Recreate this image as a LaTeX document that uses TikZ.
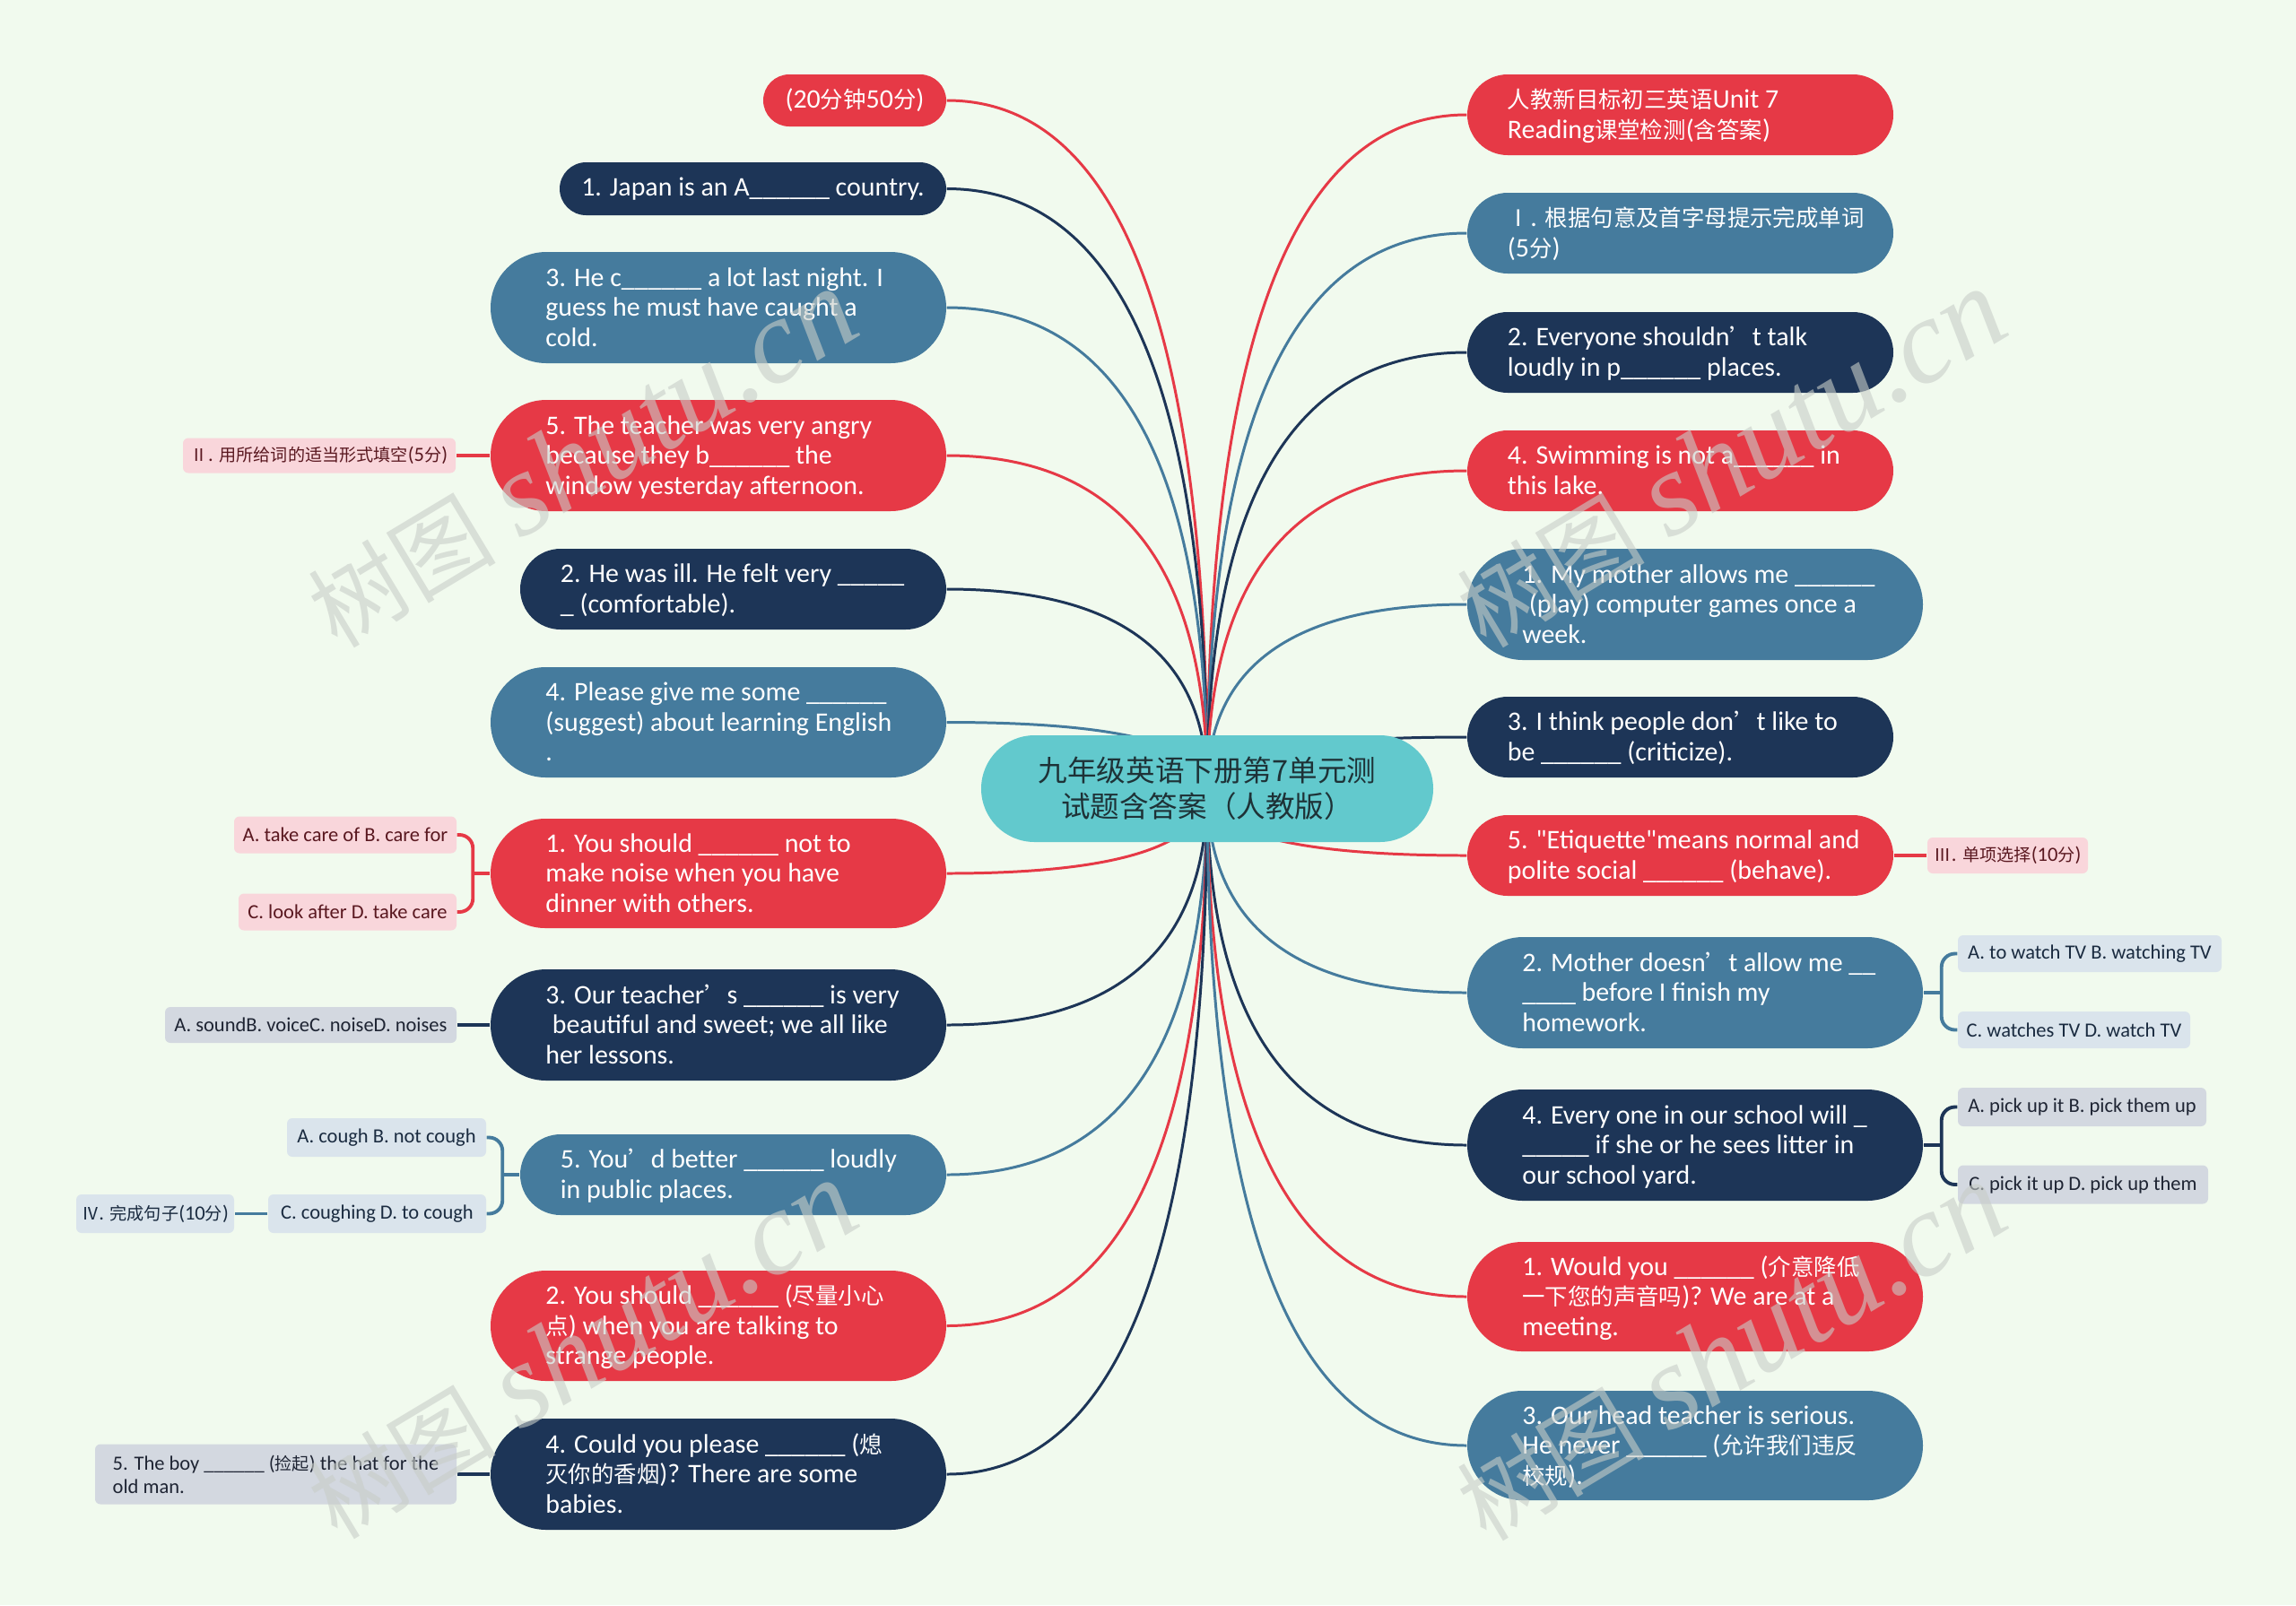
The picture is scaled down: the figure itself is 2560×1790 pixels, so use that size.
\documentclass[tikz,border=0pt]{standalone}
\usepackage{fontspec}
\setmainfont{Carlito}
\newfontfamily\latinmain{Carlito}
\newfontfamily\cjkfont[Scale=0.85]{Noto Sans CJK SC}
\newfontfamily\wmfont{Liberation Serif}
\usetikzlibrary{calc}
\pgfdeclarelayer{bgl}
\pgfdeclarelayer{lnl}
\pgfsetlayers{bgl,lnl,main}
% automatic switch to the CJK font for CJK characters
\XeTeXinterchartokenstate=1
\chardef\cjkcls=11
\newcount\cjkcnt
\def\setcjkrange#1#2{\cjkcnt=#1\relax\loop\XeTeXcharclass\cjkcnt=\cjkcls\relax\advance\cjkcnt by 1\relax\ifnum\cjkcnt<#2\relax\repeat}
\setcjkrange{"4E00}{"A000}
\setcjkrange{"3000}{"3040}
\setcjkrange{"FF00}{"FFF0}
\setcjkrange{"2160}{"2170}
\XeTeXcharclass"2019=\cjkcls
\def\latinfont{\latinmain}
\XeTeXinterchartoks 0 \cjkcls={\cjkfont}
\XeTeXinterchartoks 4095 \cjkcls={\cjkfont}
\XeTeXinterchartoks \cjkcls 0={\latinfont}
\XeTeXinterchartoks \cjkcls 4095={\latinfont}
\definecolor{cred}{HTML}{E63946}
\definecolor{cnavy}{HTML}{1D3557}
\definecolor{cblue}{HTML}{457B9D}
\definecolor{cbg}{HTML}{F1FAEE}
\definecolor{cteal}{HTML}{62C9CD}
\definecolor{cpink}{HTML}{F9D6DB}
\definecolor{cgray}{HTML}{D3D8E0}
\definecolor{clblue}{HTML}{DAE4EC}
\definecolor{ctred}{HTML}{5A1820}
\definecolor{ctdark}{HTML}{1E2433}
\definecolor{ctblue}{HTML}{1A2B40}
\definecolor{ctcenter}{HTML}{1E3237}
\definecolor{wmgray}{HTML}{C8CDC8}
% multi-line text, left aligned in a fixed-width box
\newcommand\mlines[1]{\makebox[3.85cm][l]{\raisebox{-0.03cm}[\height][\depth]{\begin{tabular}{@{}l@{}}#1\end{tabular}}}}
\newcommand\mainlink[2]{%
  \path (root.center |- #1) coordinate (qq);
  \draw[conn,#2] (root.center) .. controls ($(root.center)!0.6667!(qq)$) and ($(#1)!0.6667!(qq)$) .. (#1);}
\begin{document}
\begin{tikzpicture}[x=0.01cm,y=-0.01cm,
  mnode/.style={inner sep=0pt, text=white, font=\latinmain\fontsize{8.5}{9.55}\selectfont},
  pill/.style 2 args={minimum width=#1*0.01cm, minimum height=#2*0.01cm, rounded corners=#2*0.005cm},
  nred/.style={mnode, fill=cred},
  nnavy/.style={mnode, fill=cnavy},
  nblue/.style={mnode, fill=cblue},
  cbox/.style 2 args={minimum width=#1*0.01cm, minimum height=#2*0.01cm, rounded corners=0.06cm, inner sep=0pt, align=left, font=\latinmain\fontsize{6.4}{7.3}\selectfont},
  cpinkn/.style={fill=cpink, text=ctred},
  cgrayn/.style={fill=cgray, text=ctdark},
  clbluen/.style={fill=clblue, text=ctblue},
  conn/.style={line width=0.85pt},
  cconn/.style={line width=1.1pt},
  wm/.style={text=wmgray, text opacity=0.6, rotate=31, inner sep=0pt, font=\latinmain\fontsize{35}{35}\selectfont}
]
\begin{pgfonlayer}{bgl}
\fill[cbg] (0,0) rectangle (2560,1790);
\end{pgfonlayer}
\useasboundingbox (0,0) rectangle (2560,1790);

% root
\node[fill=cteal, pill={504}{119}, inner sep=0pt, align=center, text=ctcenter,
  font=\def\latinfont{\cjkfont}\fontsize{10.9}{11.4}\selectfont\cjkfont] (root) at (1346,879.5)
  {九年级英语下册第7单元测\\试题含答案（人教版）};

% left branches
\node[nred, pill={204}{58}] (l1) at (953,112) {(20分钟50分)};
\node[nnavy, pill={431}{59}] (l2) at (839.5,210.5) {1. Japan is an A\_\_\_\_\_\_ country.};
\node[nblue, pill={508}{124}] (l3) at (801,343) {\mlines{3. He c\_\_\_\_\_\_ a lot last night. I\\guess he must have caught a\\cold.}};
\node[nred, pill={508}{124}] (l4) at (801,508) {\mlines{5. The teacher was very angry\\because they b\_\_\_\_\_\_ the\\window yesterday afternoon.}};
\node[nnavy, pill={475}{90}] (l5) at (817.5,657) {\mlines{2. He was ill. He felt very \_\_\_\_\_\\\_ (comfortable).}};
\node[nblue, pill={508}{123}] (l6) at (801,805.5) {\mlines{4. Please give me some \_\_\_\_\_\_\\(suggest) about learning English\\.}};
\node[nred, pill={508}{122}] (l7) at (801,974) {\mlines{1. You should \_\_\_\_\_\_ not to\\make noise when you have\\dinner with others.}};
\node[nnavy, pill={508}{124}] (l8) at (801,1143) {\mlines{3. Our teacher’s \_\_\_\_\_\_ is very\\\hspace*{.25em}beautiful and sweet; we all like\\her lessons.}};
\node[nblue, pill={475}{90}] (l9) at (817.5,1310) {\mlines{5. You’d better \_\_\_\_\_\_ loudly\\in public places.}};
\node[nred, pill={508}{123}] (l10) at (801,1478.5) {\mlines{2. You should \_\_\_\_\_\_ (尽量小心\\点) when you are talking to\\strange people.}};
\node[nnavy, pill={508}{124}] (l11) at (801,1644) {\mlines{4. Could you please \_\_\_\_\_\_ (熄\\灭你的香烟)? There are some\\babies.}};

% right branches
\node[nred, pill={475}{90}] (r1) at (1873.5,128) {\mlines{人教新目标初三英语Unit 7\\Reading课堂检测(含答案)}};
\node[nblue, pill={475}{90}] (r2) at (1873.5,260) {\mlines{Ⅰ. 根据句意及首字母提示完成单词\\(5分)}};
\node[nnavy, pill={475}{90}] (r3) at (1873.5,393) {\mlines{2. Everyone shouldn’t talk\\loudly in p\_\_\_\_\_\_ places.}};
\node[nred, pill={475}{90}] (r4) at (1873.5,525) {\mlines{4. Swimming is not a\_\_\_\_\_\_ in\\this lake.}};
\node[nblue, pill={508}{124}] (r5) at (1890,674) {\mlines{1. My mother allows me \_\_\_\_\_\_\\\hspace*{.25em}(play) computer games once a\\week.}};
\node[nnavy, pill={475}{90}] (r6) at (1873.5,822) {\mlines{3. I think people don’t like to\\be \_\_\_\_\_\_ (criticize).}};
\node[nred, pill={475}{90}] (r7) at (1873.5,954) {\mlines{5. "Etiquette"means normal and\\polite social \_\_\_\_\_\_ (behave).}};
\node[nblue, pill={508}{124}] (r8) at (1890,1107) {\mlines{2. Mother doesn’t allow me \_\_\\\_\_\_\_ before I finish my\\homework.}};
\node[nnavy, pill={508}{124}] (r9) at (1890,1277) {\mlines{4. Every one in our school will \_\\\_\_\_\_\_ if she or he sees litter in\\our school yard.}};
\node[nred, pill={508}{122}] (r10) at (1890,1446) {\mlines{1. Would you \_\_\_\_\_\_ (介意降低\\一下您的声音吗)? We are at a\\meeting.}};
\node[nblue, pill={508}{122}] (r11) at (1890,1612) {\mlines{3. Our head teacher is serious.\\He never \_\_\_\_\_\_ (允许我们违反\\校规).}};

% children
\node[cbox={304}{39}, cpinkn] (c4) at (356,508) {Ⅱ. 用所给词的适当形式填空(5分)};
\node[cbox={248}{41}, cpinkn] (c7a) at (385,931) {A. take care of B. care for};
\node[cbox={243}{41}, cpinkn] (c7b) at (387.5,1017) {C. look after D. take care};
\node[cbox={325}{40}, cgrayn] (c8) at (346.5,1143) {A. soundB. voiceC. noiseD. noises};
\node[cbox={222}{43}, clbluen] (c9a) at (431,1268.5) {A. cough B. not cough};
\node[cbox={243}{43}, clbluen] (c9b) at (420.5,1353.5) {C. coughing D. to cough};
\node[cbox={176}{43}, clbluen] (c9c) at (173,1353.5) {Ⅳ. 完成句子(10分)};
\node[cbox={403}{67}, cgrayn] (c11) at (307.5,1644) {5. The boy \_\_\_\_\_\_ (捡起) the hat for the\\old man.};
\node[cbox={179}{40}, cpinkn] (cr7) at (2238.5,954) {Ⅲ. 单项选择(10分)};
\node[cbox={294}{41}, clbluen] (cr8a) at (2330,1063.5) {A. to watch TV B. watching TV};
\node[cbox={259}{41}, clbluen] (cr8b) at (2312.5,1148.5) {C. watches TV D. watch TV};
\node[cbox={277}{43}, cgrayn] (cr9a) at (2321.5,1234.5) {A. pick up it B. pick them up};
\node[cbox={279}{43}, cgrayn] (cr9b) at (2322.5,1321) {C. pick it up D. pick up them};

% connectors
\begin{pgfonlayer}{lnl}
\mainlink{l1.east}{cred}
\mainlink{l2.east}{cnavy}
\mainlink{l3.east}{cblue}
\mainlink{l4.east}{cred}
\mainlink{l5.east}{cnavy}
\mainlink{l6.east}{cblue}
\mainlink{l7.east}{cred}
\mainlink{l8.east}{cnavy}
\mainlink{l9.east}{cblue}
\mainlink{l10.east}{cred}
\mainlink{l11.east}{cnavy}
\mainlink{r1.west}{cred}
\mainlink{r2.west}{cblue}
\mainlink{r3.west}{cnavy}
\mainlink{r4.west}{cred}
\mainlink{r5.west}{cblue}
\mainlink{r6.west}{cnavy}
\mainlink{r7.west}{cred}
\mainlink{r8.west}{cblue}
\mainlink{r9.west}{cnavy}
\mainlink{r10.west}{cred}
\mainlink{r11.west}{cblue}
% child links
\draw[cconn,cred] (l4.west) -- (c4.east);
\draw[cconn,cnavy] (l8.west) -- (c8.east);
\draw[cconn,cnavy] (l11.west) -- (c11.east);
\draw[cconn,cred] (r7.east) -- (cr7.west);
\draw[cconn,cblue] (c9b.west) -- (c9c.east);
\draw[cconn,cred] (l7.west) -- ([xshift=-0.19cm]l7.west);
\draw[cconn,cred,rounded corners=0.15cm] (c7a.east) -| ([xshift=-0.19cm]l7.west) |- (c7b.east);
\draw[cconn,cblue] (l9.west) -- ([xshift=-0.19cm]l9.west);
\draw[cconn,cblue,rounded corners=0.15cm] (c9a.east) -| ([xshift=-0.19cm]l9.west) |- (c9b.east);
\draw[cconn,cblue] (r8.east) -- ([xshift=0.2cm]r8.east);
\draw[cconn,cblue,rounded corners=0.15cm] (cr8a.west) -| ([xshift=0.2cm]r8.east) |- (cr8b.west);
\draw[cconn,cnavy] (r9.east) -- ([xshift=0.2cm]r9.east);
\draw[cconn,cnavy,rounded corners=0.15cm] (cr9a.west) -| ([xshift=0.2cm]r9.east) |- (cr9b.west);
\end{pgfonlayer}

% watermarks
\node[wm] (wm1) at (649,512) {树图 {\fontsize{38}{38}\selectfont\wmfont\itshape shutu.cn}};
\node[wm] (wm2) at (1930,512) {树图 {\fontsize{38}{38}\selectfont\wmfont\itshape shutu.cn}};
\node[wm] (wm3) at (649,1506) {树图 {\fontsize{38}{38}\selectfont\wmfont\itshape shutu.cn}};
\node[wm] (wm4) at (1930,1508) {树图 {\fontsize{38}{38}\selectfont\wmfont\itshape shutu.cn}};
\end{tikzpicture}
\end{document}
